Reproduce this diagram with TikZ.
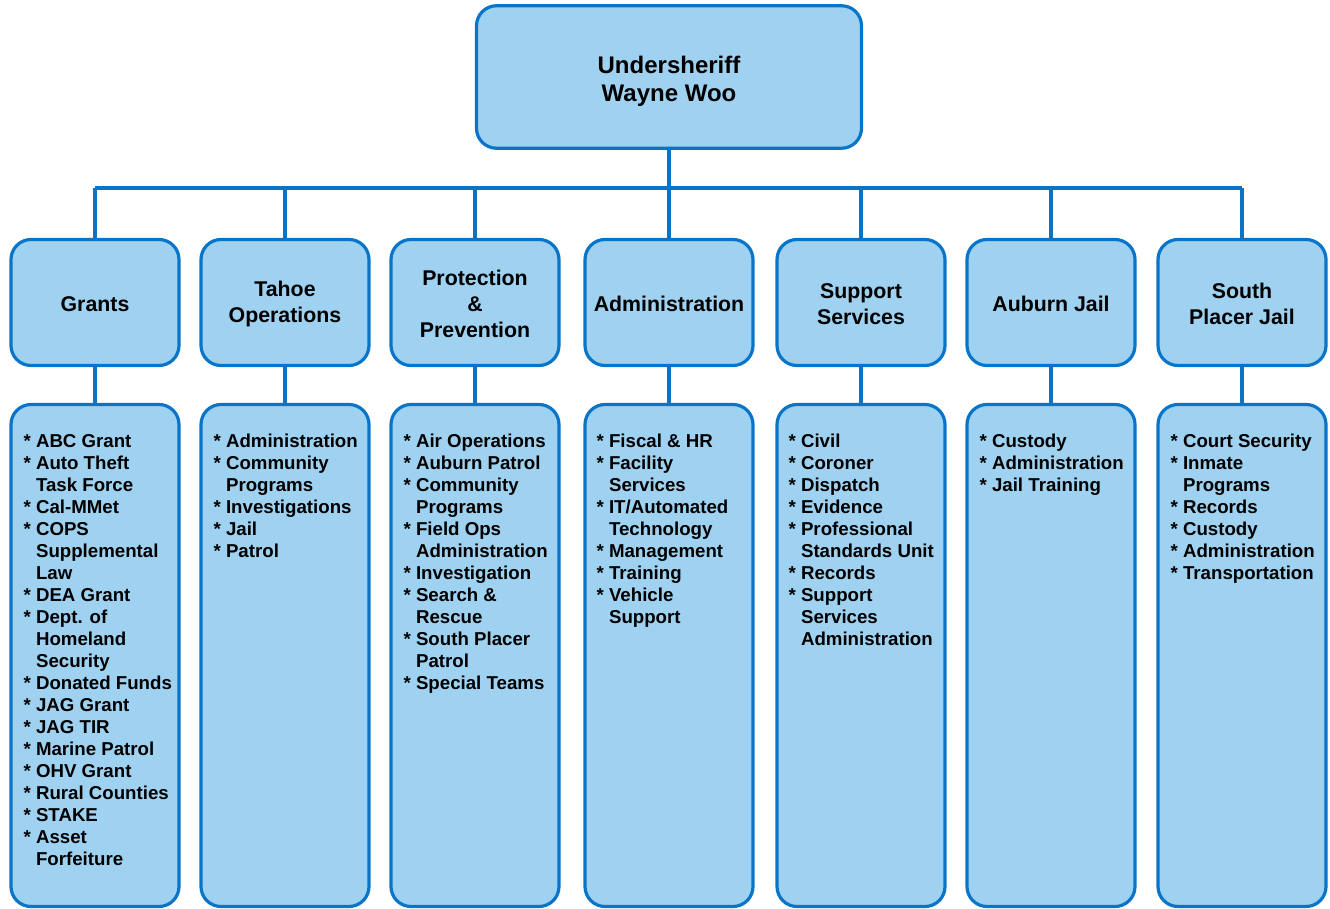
\documentclass[tikz,border=0pt]{standalone}
\usepackage{fontspec}
\setmainfont{Liberation Sans}
\definecolor{boxfill}{RGB}{159,210,241}
\definecolor{boxline}{RGB}{10,117,200}
\tikzset{
  x=1pt, y=-1pt,
  orgbox/.style={draw=boxline, fill=boxfill, line width=3.2pt, rounded corners=20pt, inner sep=0pt},
  topbox/.style={orgbox, minimum width=385pt, minimum height=142.5pt},
  headbox/.style={orgbox, minimum width=168pt, minimum height=126pt},
  toptext/.style={align=center, inner sep=0pt, font=\fontsize{24}{28}\selectfont\bfseries},
  headtext/.style={align=center, inner sep=0pt, font=\fontsize{21.33}{26}\selectfont\bfseries},
  listbox/.style={orgbox, minimum width=168pt, minimum height=502pt},
  listtext/.style={anchor=base west, inner sep=0pt, font=\fontsize{18.67}{22}\selectfont\bfseries},
  conn/.style={draw=boxline, line width=3.2pt}
}
\newcommand{\itemlist}[1]{\begin{tabular}[t]{@{}l@{~}l@{}}#1\end{tabular}}
\newcommand{\bl}{{*}}
\begin{document}
\begin{tikzpicture}
\useasboundingbox (0,0) rectangle (1330,909);
\node[topbox] (top) at (669,77) {};
\node[toptext] (toplabel) at (669,81.5) {Undersheriff\\Wayne Woo};
\foreach \i/\cx/\txt in {1/95/{Grants},2/285/{Tahoe\\Operations},3/475/{Protection\\\&\\Prevention},
   4/669/{Administration},5/861/{Support\\Services},6/1051/{Auburn Jail},7/1242/{South\\Placer Jail}}{
  \node[headbox] (h\i) at (\cx,302.5) {};
  \node[headtext] (hl\i) at (\cx,304) {\txt};
  \node[listbox] (l\i) at (\cx,655.5) {};
}
\coordinate (bus) at (669,188);
\draw[conn] (top.south) -- (bus);
\draw[conn] (h1.north |- bus) -- (h7.north |- bus);
\foreach \i in {1,...,7}{
  \draw[conn] (h\i.north) -- (h\i.north |- bus);
  \draw[conn] (h\i.south) -- (l\i.north);
}
\node[listtext] (t1) at ([xshift=14pt]l1.north west |- 0,447.5) {\itemlist{
\bl & ABC Grant\\
\bl & Auto Theft\\
  & Task Force\\
\bl & Cal-MMet\\
\bl & COPS\\
  & Supplemental\\
  & Law\\
\bl & DEA Grant\\
\bl & Dept. of\\
  & Homeland\\
  & Security\\
\bl & Donated Funds\\
\bl & JAG Grant\\
\bl & JAG TIR\\
\bl & Marine Patrol\\
\bl & OHV Grant\\
\bl & Rural Counties\\
\bl & STAKE\\
\bl & Asset\\
  & Forfeiture}};
\node[listtext] (t2) at ([xshift=14pt]l2.north west |- 0,447.5) {\itemlist{
\bl & Administration\\
\bl & Community\\
  & Programs\\
\bl & Investigations\\
\bl & Jail\\
\bl & Patrol}};
\node[listtext] (t3) at ([xshift=14pt]l3.north west |- 0,447.5) {\itemlist{
\bl & Air Operations\\
\bl & Auburn Patrol\\
\bl & Community\\
  & Programs\\
\bl & Field Ops\\
  & Administration\\
\bl & Investigation\\
\bl & Search \&\\
  & Rescue\\
\bl & South Placer\\
  & Patrol\\
\bl & Special Teams}};
\node[listtext] (t4) at ([xshift=13pt]l4.north west |- 0,447.5) {\itemlist{
\bl & Fiscal \& HR\\
\bl & Facility\\
  & Services\\
\bl & IT/Automated\\
  & Technology\\
\bl & Management\\
\bl & Training\\
\bl & Vehicle\\
  & Support}};
\node[listtext] (t5) at ([xshift=13pt]l5.north west |- 0,447.5) {\itemlist{
\bl & Civil\\
\bl & Coroner\\
\bl & Dispatch\\
\bl & Evidence\\
\bl & Professional\\
  & Standards Unit\\
\bl & Records\\
\bl & Support\\
  & Services\\
  & Administration}};
\node[listtext] (t6) at ([xshift=14pt]l6.north west |- 0,447.5) {\itemlist{
\bl & Custody\\
\bl & Administration\\
\bl & Jail Training}};
\node[listtext] (t7) at ([xshift=14pt]l7.north west |- 0,447.5) {\itemlist{
\bl & Court Security\\
\bl & Inmate\\
  & Programs\\
\bl & Records\\
\bl & Custody\\
\bl & Administration\\
\bl & Transportation}};
\end{tikzpicture}
\end{document}
